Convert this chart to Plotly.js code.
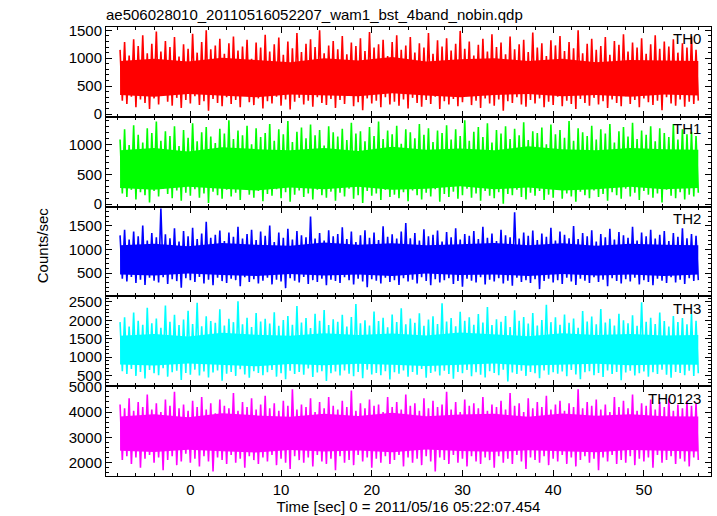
<!DOCTYPE html>
<html>
<head>
<meta charset="utf-8">
<script src="https://cdn.plot.ly/plotly-3.0.1.min.js"></script>
<style>html,body{margin:0;padding:0;background:#fff;}#chart{width:717px;height:516px;}</style>
</head>
<body>
<div id="chart"></div>
<script>
// Light curve envelope: per 0.5 s, highest and lowest rate reached
const tStart = -7.75;
const binWidth = 0.25;      // max sample at 2j*binWidth, min sample at (2j+1)*binWidth
const coreStep = 3.75;      // step of the solid core band readings

const th0Max = [
1150,1290,1050,1340,1220,1410,1090,1260,1480,1120,1310,1200,1380,1030,1250,1170,
1440,1100,1290,1500,1160,1230,1350,1080,1270,1390,1140,1210,1330,990,1280,1190,
1420,1120,1250,1370,1060,1300,1180,1450,1110,1260,1340,1200,1500,1090,1230,1310,
1160,1400,1070,1280,1220,1360,1130,1470,1190,1250,1330,1040,1290,1410,1150,1230,
1380,1100,1270,1190,1450,1080,1320,1210,1360,1140,1260,1490,1170,1300,1050,1240,
1350,1120,1430,1200,1280,1070,1390,1160,1250,1330,1110,1460,1190,1270,1040,1320,
1230,1400,1130,1290,1180,1500,1090,1260,1350,1150,1220,1380,1060,1310,1240,1430,
1120,1280,1190,1360,1080,1250,1410,1170,1300,1210,1340,1100,1270,1190,1390,1150];
const th0Min = [
240,180,310,120,260,200,90,280,170,330,220,150,290,110,250,190,
320,160,230,60,270,200,140,300,180,250,120,340,210,160,280,100,
230,190,310,150,260,80,220,290,170,240,130,300,200,160,270,110,
250,180,330,140,210,70,280,190,240,120,300,170,220,150,260,100,
290,200,130,250,180,310,90,230,170,270,140,210,320,160,240,110,
280,190,150,260,60,230,200,300,170,130,250,190,280,120,220,160,
310,140,240,180,90,270,200,150,290,170,230,110,260,200,140,320,
180,250,120,280,210,160,240,70,300,190,150,260,130,220,180,240];

const th1Max = [
1080,1250,990,1320,1160,1030,1270,1190,1380,1060,1220,1140,1300,970,1240,1110,
1350,1050,1200,1290,1130,1020,1260,1180,1400,1090,1230,1150,1310,1000,1270,1120,
1190,1340,1060,1250,1170,1390,1040,1210,1280,1100,1330,1150,1240,980,1300,1200,
1130,1260,1070,1360,1180,1220,1050,1290,1140,1380,1090,1230,1170,1310,1010,1250,
1200,1100,1340,1160,1270,1040,1230,1190,1320,1080,1250,1140,1400,1060,1210,1290,
1120,1350,1030,1240,1180,1300,1090,1260,1150,1370,1070,1220,1190,1280,1000,1330,
1170,1240,1110,1390,1060,1270,1200,1140,1310,1080,1250,1180,1340,1030,1220,1290,
1130,1360,1090,1230,1160,1300,1050,1270,1190,1120,1340,1080,1250,1170,1210,1140];
const th1Min = [
180,120,240,80,200,150,30,220,130,260,170,100,230,60,190,140,
250,110,180,20,210,150,90,240,130,190,70,270,160,110,220,50,
170,140,250,100,200,40,160,230,120,180,80,240,150,110,210,60,
190,130,260,90,150,20,220,140,180,70,240,120,160,100,200,50,
230,150,80,190,130,250,40,170,120,210,90,150,260,110,180,60,
220,140,100,200,10,170,150,240,120,80,190,140,220,70,160,110,
250,90,180,130,40,210,150,100,230,120,170,60,200,150,90,260,
130,190,70,220,160,110,180,30,240,140,100,200,80,160,130,190];

const th2Max = [
1300,1420,1210,1380,1280,1510,1190,1350,1260,1870,1320,1240,1450,1170,1390,1280,
1460,1220,1340,1590,1250,1310,1400,1180,1360,1270,1480,1230,1330,1420,1200,1380,
1290,1510,1160,1360,1250,1440,1210,1390,1300,1260,1700,1230,1350,1190,1410,1280,
1330,1470,1220,1380,1160,1300,1410,1250,1360,1200,1490,1270,1320,1230,1380,1560,
1240,1350,1190,1430,1280,1310,1400,1170,1370,1260,1450,1210,1330,1290,1390,1220,
1480,1250,1340,1180,1420,1300,1260,1790,1230,1360,1290,1400,1200,1340,1270,1460,
1190,1380,1310,1240,1500,1220,1350,1280,1410,1170,1330,1260,1440,1210,1370,1300,
1250,1480,1190,1360,1280,1420,1230,1310,1390,1180,1350,1270,1450,1240,1330,1290];
const th2Min = [
380,320,420,290,360,250,400,340,300,410,270,370,330,190,390,350,
310,420,280,360,240,400,330,290,380,350,220,410,310,370,280,340,
400,260,360,320,180,390,340,300,420,270,350,310,380,240,360,330,
290,410,350,260,380,320,200,370,340,280,400,310,350,250,390,320,
360,280,410,330,240,370,300,350,390,270,330,210,380,340,300,410,
260,360,320,390,280,340,230,400,310,350,290,370,160,330,380,300,
350,270,400,320,250,380,340,290,410,310,360,220,390,330,280,370,
320,400,260,350,310,240,380,340,290,410,300,360,270,390,330,350];

const th3Max = [
1950,2080,1830,2210,1990,1880,2340,1920,2050,1800,2400,1960,2150,1870,2020,2260,
1900,2480,1840,2110,1980,1930,2300,1860,2040,1950,2520,1890,2070,1820,2200,1970,
2040,1910,2220,1850,2010,2120,1880,2390,1940,2060,1790,2180,1990,2280,1870,2030,
1960,2150,1830,2090,2440,1920,2000,1860,2240,1980,2070,1810,2160,1950,2330,1890,
2050,1930,2190,1850,2020,2110,1900,2460,1970,2060,1840,2230,1990,2080,1880,2170,
1940,2360,1870,2030,1960,2120,1820,2270,1990,2090,1910,2200,1860,2010,2420,1950,
2080,1880,2160,1930,2050,1800,2250,1970,2100,1890,2310,1940,2040,1860,2180,2000,
1920,2140,1850,2490,1960,2070,1900,2210,1980,1830,2120,1950,2060,1890,2170,1990];
const th3Min = [
620,540,680,490,600,420,650,560,510,700,470,590,630,380,570,520,
660,500,610,450,580,640,360,550,600,490,670,530,440,620,570,510,
590,650,470,560,400,630,540,600,520,690,460,580,620,350,560,610,
500,640,550,480,600,430,660,530,570,510,620,390,590,550,640,470,
600,520,680,440,570,610,500,630,540,410,600,560,650,480,590,520,
450,620,570,510,660,340,580,540,630,490,600,560,430,640,520,590,
550,610,480,650,530,400,590,620,510,570,460,640,540,600,370,580,
630,500,560,610,470,590,540,660,520,440,600,570,510,630,490,560];

const th0123Max = [
4300,4150,4550,4050,4400,4200,4700,4100,4350,4000,4500,4250,4800,4150,4300,4050,
4450,4200,4600,4100,4350,3950,4500,4250,4150,4750,4050,4400,4200,4550,4100,4300,
4650,4150,4350,4050,4450,4250,4900,4100,4300,4200,4550,4000,4400,4150,4600,4250,
4100,4450,4200,4850,4050,4350,4150,4500,4250,4300,4000,4600,4200,4400,4100,4700,
4250,4350,4050,4550,4150,4450,4200,4300,4800,4100,4400,4000,4500,4250,4350,4150,
4600,4050,4300,4200,4450,4100,4750,4250,4350,4000,4550,4150,4400,4200,4650,4100,
4300,4450,4050,4350,4200,4900,4150,4400,4250,4500,4100,4300,4000,4600,4200,4450,
4150,4700,4050,4350,4250,4500,4100,4400,4200,4550,4050,4300,4150,4450,4250,4350];
const th0123Min = [
2100,2250,1950,2200,1800,2150,2300,2000,2200,1700,2100,2250,1900,2050,2350,2000,
2150,1850,2250,2050,1650,2200,2100,1950,2300,2000,2150,1800,2250,2100,1950,2200,
2050,2300,1900,2150,2000,1750,2250,2100,2000,2200,1850,2300,2050,1950,2150,1700,
2250,2000,2100,1900,2300,2050,2200,1800,2150,2000,2250,1950,2100,2300,1850,2200,
2000,2150,1900,2250,2050,1650,2200,2100,1950,2300,2000,2150,1850,2250,2050,1950,
2200,2100,1800,2250,2000,2150,1950,2300,2050,1750,2200,2100,2000,2250,1900,2150,
2050,2300,1950,2200,1850,2100,2250,2000,2150,1700,2200,2050,2300,1950,2100,2000,
2250,1900,2150,2050,2200,1800,2300,2000,2100,2250,1950,2150,2050,1850,2200,2100];

// Solid core of each band (lower / upper edge), every coreStep seconds
const th0CoreLo = [340,310,360,330,300,350,330,320,370,330,300,340,360,320,340,310,350,330];
const th0CoreHi = [950,990,940,1010,970,930,1000,960,1020,940,980,1000,950,990,930,970,960,950];
const th1CoreLo = [270,240,290,260,230,280,250,290,240,260,300,250,280,230,250,290,250,270];
const th1CoreHi = [900,940,880,950,920,900,940,890,960,910,930,900,970,920,900,940,920,910];
const th2CoreLo = [470,450,490,460,440,480,450,470,440,490,460,470,440,480,450,470,440,470];
const th2CoreHi = [1090,1120,1070,1140,1100,1080,1150,1100,1130,1090,1110,1140,1090,1130,1080,1120,1100,1090];
const th3CoreLo = [800,770,830,790,750,810,780,820,790,760,800,830,770,800,820,780,800,790];
const th3CoreHi = [1580,1630,1560,1660,1610,1580,1650,1600,1640,1590,1670,1610,1570,1650,1600,1630,1590,1600];
const th0123CoreLo = [2470,2420,2510,2450,2400,2500,2440,2480,2410,2520,2460,2430,2490,2450,2410,2500,2460,2440];
const th0123CoreHi = [3830,3910,3800,3950,3870,3820,3930,3850,3970,3840,3900,3930,3820,3940,3860,3910,3840,3830];

const bandNames = ["TH0", "TH1", "TH2", "TH3", "TH0123"];
const bandMax = [th0Max, th1Max, th2Max, th3Max, th0123Max];
const bandMin = [th0Min, th1Min, th2Min, th3Min, th0123Min];
const coreLo = [th0CoreLo, th1CoreLo, th2CoreLo, th3CoreLo, th0123CoreLo];
const coreHi = [th0CoreHi, th1CoreHi, th2CoreHi, th3CoreHi, th0123CoreHi];
const bandColors = ["#ff0000", "#00ff00", "#0000ff", "#00ffff", "#ff00ff"];
const yRanges = [[-50, 1560], [-40, 1460], [5, 1910], [210, 2650], [1470, 5025]];
const yDticks = [500, 500, 500, 500, 1000];
const yMinor = [100, 100, 100, 100, 200];

const coreTime = th0CoreLo.map((_, j) => tStart + j * coreStep);

const font = "Liberation Sans, Arial, Helvetica, sans-serif";
const traces = [];
const layout = {
  width: 717, height: 516,
  margin: {l: 106, r: 6, t: 27, b: 40},
  paper_bgcolor: "#ffffff", plot_bgcolor: "#ffffff",
  showlegend: false,
  font: {family: font, size: 15, color: "#000"},
  title: {text: "ae506028010_20110516052207_wam1_bst_4band_nobin.qdp",
          x: 106/717, xanchor: "left", xref: "container",
          y: 1 - 15/516, yanchor: "middle", yref: "container",
          font: {family: font, size: 15, color: "#000"}},
  annotations: []
};

const n = bandNames.length;
for (let i = 0; i < n; i++) {
  const k = i + 1;
  const xa = k === 1 ? "x" : "x" + k;
  const ya = k === 1 ? "y" : "y" + k;
  // solid core band
  traces.push({
    x: coreTime.concat(coreTime.slice().reverse()),
    y: coreHi[i].concat(coreLo[i].slice().reverse()),
    type: "scatter", mode: "lines", fill: "toself",
    fillcolor: bandColors[i], line: {width: 0, color: bandColors[i]},
    xaxis: xa, yaxis: ya, hoverinfo: "skip"
  });
  // light curve (alternating highs and lows)
  const lx = [], ly = [];
  const m = Math.min(bandMax[i].length, bandMin[i].length);
  for (let j = 0; j < m; j++) {
    lx.push(tStart + 2 * j * binWidth); ly.push(bandMax[i][j]);
    lx.push(tStart + (2 * j + 1) * binWidth); ly.push(bandMin[i][j]);
  }
  traces.push({
    x: lx, y: ly, type: "scatter", mode: "lines",
    xaxis: xa, yaxis: ya, name: bandNames[i],
    line: {color: bandColors[i], width: 1.6}, hoverinfo: "skip"
  });
  const top = 1 - i * 0.2, bottom = 1 - (i + 1) * 0.2;
  const isBottom = (i === n - 1);
  const xkey = k === 1 ? "xaxis" : "xaxis" + k;
  const ykey = k === 1 ? "yaxis" : "yaxis" + k;
  layout[xkey] = {
    anchor: ya, range: [-9.3, 57.4], domain: [0, 1],
    showline: true, linecolor: "#000", linewidth: 1, mirror: "allticks",
    ticks: "inside", ticklen: 6, tickcolor: "#000", tickwidth: 1,
    dtick: 10, tick0: 0,
    minor: {ticks: "inside", ticklen: 3, dtick: 2, tick0: 0, tickcolor: "#000"},
    showgrid: false, zeroline: false,
    showticklabels: isBottom,
    tickfont: {family: font, size: 15, color: "#000"}
  };
  if (k !== 1) layout[xkey].matches = "x";
  if (isBottom) {
    layout[xkey].title = {text: "Time [sec] 0 = 2011/05/16 05:22:07.454",
      font: {family: font, size: 15, color: "#000"}, standoff: 4};
  }
  layout[ykey] = {
    domain: [bottom, top], anchor: xa, range: yRanges[i],
    showline: true, linecolor: "#000", linewidth: 1, mirror: "allticks",
    ticks: "inside", ticklen: 6, tickcolor: "#000", tickwidth: 1,
    dtick: yDticks[i], tick0: 0,
    minor: {ticks: "inside", ticklen: 3, dtick: yMinor[i], tick0: 0, tickcolor: "#000"},
    showgrid: false, zeroline: false,
    tickfont: {family: font, size: 15, color: "#000"}
  };
  layout.annotations.push({
    text: bandNames[i], xref: "paper", yref: ya + " domain",
    x: 0.987, y: 0.985, xanchor: "right", yanchor: "top",
    showarrow: false, font: {family: font, size: 15, color: "#000"}
  });
}
layout.annotations.push({
  text: "Counts/sec", xref: "paper", yref: "paper",
  x: (42 - 106) / 605, y: 0.514, xanchor: "center", yanchor: "middle",
  textangle: -90, showarrow: false, font: {family: font, size: 15, color: "#000"}
});

Plotly.newPlot("chart", traces, layout, {displayModeBar: false, staticPlot: true});
</script>
</body>
</html>
